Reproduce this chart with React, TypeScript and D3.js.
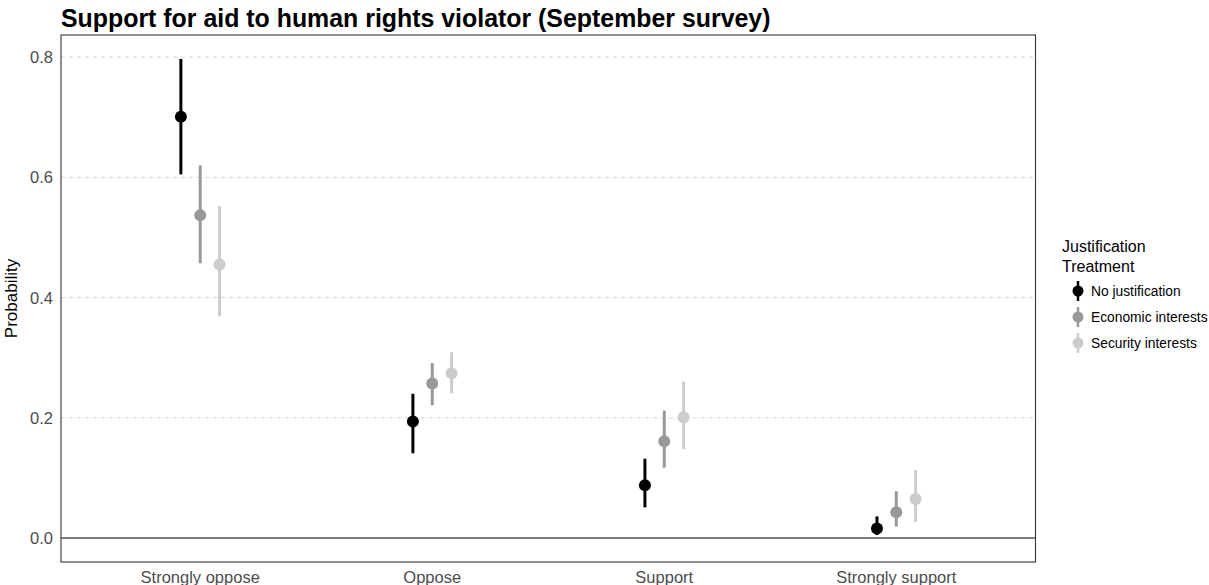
import React from "react";
import * as d3 from "d3";

const categories = ["Strongly oppose", "Oppose", "Support", "Strongly support"];
const treatments = ["No justification", "Economic interests", "Security interests"];
const colors = ["#000000", "#999999", "#cccccc"];

const estNone = [0.701, 0.194, 0.088, 0.016];
const lowNone = [0.605, 0.141, 0.051, 0.005];
const highNone = [0.797, 0.240, 0.132, 0.036];

const estEcon = [0.537, 0.257, 0.161, 0.043];
const lowEcon = [0.457, 0.221, 0.117, 0.019];
const highEcon = [0.620, 0.291, 0.212, 0.078];

const estSec = [0.455, 0.274, 0.201, 0.065];
const lowSec = [0.369, 0.241, 0.148, 0.027];
const highSec = [0.552, 0.309, 0.260, 0.113];

const yTicks = [0.0, 0.2, 0.4, 0.6, 0.8];

const series = [
  { est: estNone, low: lowNone, high: highNone },
  { est: estEcon, low: lowEcon, high: highEcon },
  { est: estSec, low: lowSec, high: highSec },
];

export default function App() {
  const W = 1209, H = 585;
  const left = 61, right = 1035.5, top = 35, bottom = 562;
  const font = "Helvetica, Arial, 'Liberation Sans', sans-serif";

  const xs = (c: string) => left + ((right - left) * (0.6 + categories.indexOf(c))) / (categories.length - 1 + 1.2);
  const dodge = d3.scaleBand<string>().domain(treatments).range([-29, 29]).padding(0);
  const allHigh = d3.max([...highNone, ...highEcon, ...highSec]) as number;
  const ymin = 0, ymax = allHigh;
  const pad = (ymax - ymin) * 0.05;
  const y = d3.scaleLinear().domain([ymin - pad, ymax + pad]).range([bottom, top]);

  return (
    <svg width={W} height={H} style={{ position: "absolute", left: 0, top: 0, background: "#fff" }}>
      <text x={61} y={26.5} fontFamily={font} fontSize={24.9} fontWeight="bold" fill="#000">
        Support for aid to human rights violator (September survey)
      </text>
      {yTicks.filter((t) => t > 0).map((t) => (
        <line key={t} x1={left} x2={right} y1={y(t)} y2={y(t)} stroke="#d6d6d6" strokeWidth={1} strokeDasharray="4,4" />
      ))}
      <line x1={left} x2={right} y1={y(0)} y2={y(0)} stroke="#000" strokeWidth={1.1} />
      {series.map((s, si) =>
        categories.map((c, ci) => {
          const cx = xs(c) + (dodge(treatments[si]) as number) + dodge.bandwidth() / 2;
          return (
            <g key={si + "-" + ci}>
              <line x1={cx} x2={cx} y1={y(s.low[ci])} y2={y(s.high[ci])} stroke={colors[si]} strokeWidth={3} />
              <circle cx={cx} cy={y(s.est[ci])} r={6} fill={colors[si]} />
            </g>
          );
        })
      )}
      <rect x={left} y={top} width={right - left} height={bottom - top} fill="none" stroke="#333" strokeWidth={1.1} />
      {yTicks.map((t) => (
        <text key={t} x={53} y={y(t)} dy="0.36em" textAnchor="end" fontFamily={font} fontSize={16.5} fill="#4d4d4d">
          {t.toFixed(1)}
        </text>
      ))}
      {categories.map((c) => (
        <text key={c} x={xs(c)} y={582.5} textAnchor="middle" fontFamily={font} fontSize={16.5} fill="#4d4d4d">
          {c}
        </text>
      ))}
      <text transform={`translate(17,${(top + bottom) / 2}) rotate(-90)`} textAnchor="middle" fontFamily={font} fontSize={17} fill="#000">
        Probability
      </text>
      <text x={1062} y={252} fontFamily={font} fontSize={16} fill="#000">Justification</text>
      <text x={1062} y={271.5} fontFamily={font} fontSize={16} fill="#000">Treatment</text>
      {treatments.map((t, i) => {
        const cy = 291 + i * 26;
        return (
          <g key={t}>
            <line x1={1078} x2={1078} y1={cy - 10} y2={cy + 10} stroke={colors[i]} strokeWidth={2.5} />
            <circle cx={1078} cy={cy} r={5.5} fill={colors[i]} />
            <text x={1091} y={cy} dy="0.36em" fontFamily={font} fontSize={13.8} fill="#000">{t}</text>
          </g>
        );
      })}
    </svg>
  );
}
